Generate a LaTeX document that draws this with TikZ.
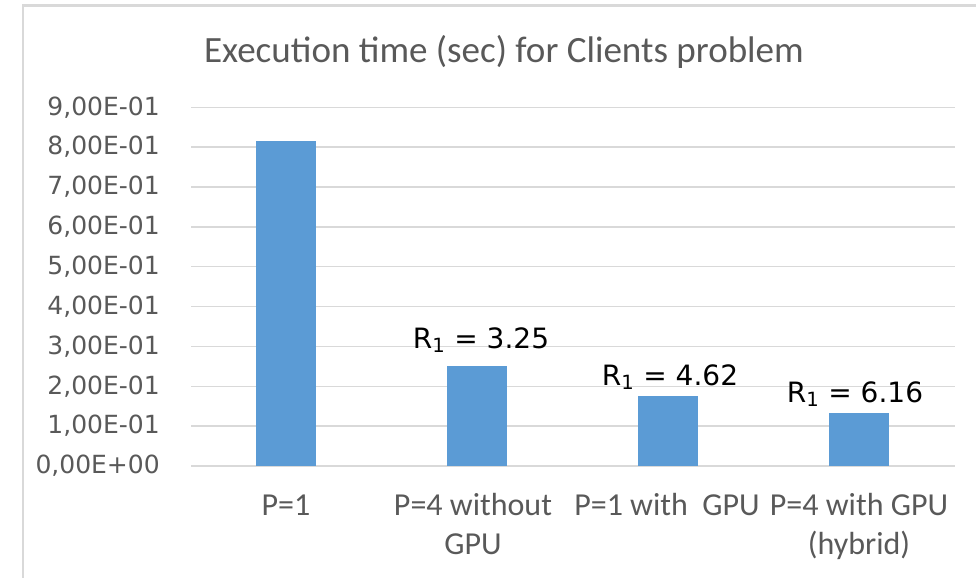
\documentclass[tikz,border=0pt]{standalone}
\usepackage{fontspec}
\setmainfont{Carlito}
\newfontfamily\verd{DejaVu Sans}
\usetikzlibrary{calc}
\definecolor{barblue}{HTML}{5B9BD5}
\definecolor{gridgray}{HTML}{D9D9D9}
\definecolor{textgray}{HTML}{595959}
\tikzset{
  ticklabel/.style={anchor=east,inner sep=0pt,text=textgray,font=\verd\fontsize{18.75}{22}\selectfont},
  catlabel/.style={anchor=base,inner sep=0pt,text=textgray,align=center,font=\fontsize{24}{29}\selectfont},
  ratiolabel/.style={anchor=base,inner sep=0pt,font=\verd\fontsize{21}{25}\selectfont}
}

\begin{document}
\begin{tikzpicture}[x=0.75pt,y=-0.75pt]
                \useasboundingbox (0,0) rectangle (976,578);
                \draw[gridgray,line width=1.9pt] (23,578) -- (23,5.5) -- (976,5.5);
                \node[text=textgray,font=\fontsize{27.8}{32}\selectfont,anchor=base] (title) at (504,62) {Execution time (sec) for Clients problem};
                % grid and y axis
                \foreach \i in {0,...,9}
                    \draw[gridgray,line width=1pt] (191,{466-39.86*\i}) -- (955,{466-39.86*\i});
                \node[ticklabel] (t0) at (160,466) {0,00E+00};
                \foreach \i in {1,...,9}
                    \node[ticklabel] (t\i) at (160,{466-39.86*\i}) {\i,00E-01};
                % bars
                \foreach \c/\v in {286/0.815,477/0.2508,668/0.1764,859/0.1323}
                    \fill[barblue] (\c-30,466) rectangle (\c+30,{466-398.6*\v});
                \node[ratiolabel] (r2) at (481,348) {R\textsubscript{1} = 3.25};
                \node[ratiolabel] (r3) at (670,385) {R\textsubscript{1} = 4.62};
                \node[ratiolabel] (r4) at (855,402) {R\textsubscript{1} = 6.16};
                % categories
                \node[catlabel] (c1) at (286,515) {P=1};
                \node[catlabel] (c2) at (473,554) {P=4 without\\GPU};
                \node[catlabel] (c3) at (667,515) {P=1 with\ \ GPU};
                \node[catlabel] (c4) at (859,554) {P=4 with GPU\\(hybrid)};
            \end{tikzpicture}
\end{document}
